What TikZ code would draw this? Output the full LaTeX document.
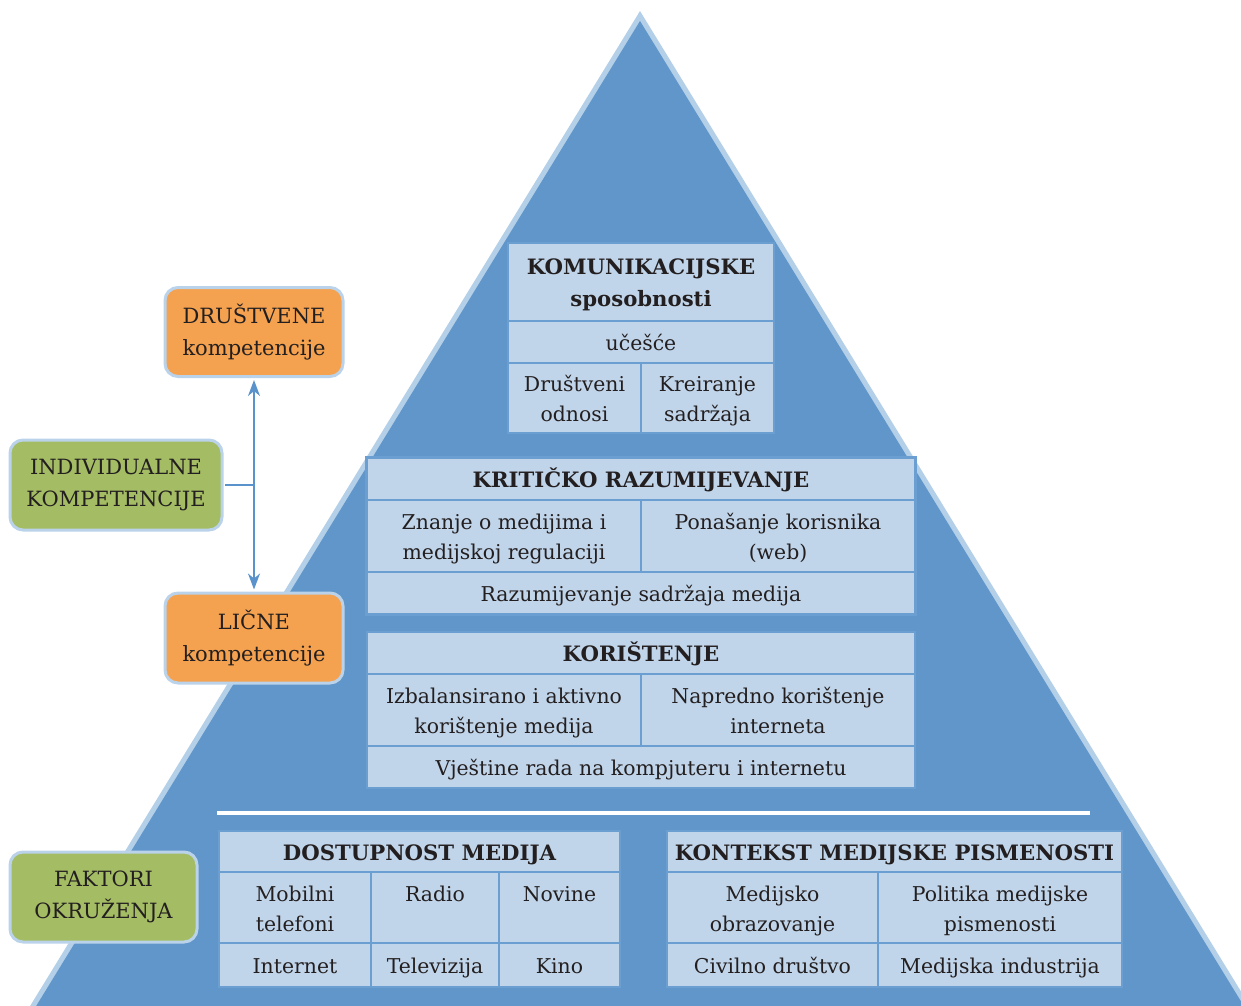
\documentclass[tikz,border=0pt]{standalone}
\usepackage{fontspec}
\setmainfont{DejaVu Serif}
\usetikzlibrary{arrows.meta}
\definecolor{pyrblue}{HTML}{6096C9}
\definecolor{pyredge}{HTML}{B4CFE8}
\definecolor{cellfill}{HTML}{C1D5EA}
\definecolor{cellline}{HTML}{6C9FD1}
\definecolor{txt}{HTML}{231F20}
\definecolor{orangefill}{HTML}{F4A24F}
\definecolor{greenfill}{HTML}{A4BC63}
\definecolor{nodeedge}{HTML}{BBD3EA}
\definecolor{arrowcol}{HTML}{5A93CC}
\newcommand\hd[1]{{\fontsize{21.2}{32}\selectfont\bfseries #1}}
\newcommand\cstrut{\rule[-6pt]{0pt}{29pt}}
\tikzset{
  cellst/.style={draw=cellline, fill=cellfill, line width=1.4pt, text=txt,
    align=center, inner sep=0pt, font=\fontsize{20.4}{30}\selectfont},
  tabframe/.style={draw=cellline, line width=2.2pt},
  sidebox/.style={draw=nodeedge, line width=3pt, rounded corners=13pt, text=txt,
    align=center, inner sep=0pt, font=\fontsize{21}{32}\selectfont},
  conn/.style={draw=arrowcol, line width=2pt},
  arr/.style={conn, {Stealth[length=16pt,width=12pt,inset=5pt]}-{Stealth[length=16pt,width=12pt,inset=5pt]}},
}
\newcommand\cellbox[6]{\node[cellst, minimum width={(#4-#2)*1pt}, minimum height={(#5-#3)*1pt}] (#1) at ({(#2+#4)/2},{(#3+#5)/2}) {\cstrut#6\cstrut};}
\begin{document}
\begin{tikzpicture}[x=1pt,y=-1pt]
\useasboundingbox (0,0) rectangle (1241,1005);
\begin{scope}
\clip (0,0) rectangle (1241,1005);
% pyramid
\fill[pyredge] (640,11) -- (21.5,1020) -- (1258.5,1020) -- cycle;
\fill[pyrblue] (640,21) -- (27.6,1020) -- (1252.4,1020) -- cycle;
\end{scope}
% top box
\node[cellst, minimum width=266pt, minimum height=78pt] (k1) at (641,282) {\cstrut\hd{KOMUNIKACIJSKE}\\[2pt]\hd{sposobnosti}\cstrut};
\cellbox{k2}{508}{321}{774}{363}{učešće}
\cellbox{k3}{508}{363}{641}{433}{Društveni\\odnosi}
\cellbox{k4}{641}{363}{774}{433}{Kreiranje\\sadržaja}
% kriticko
\cellbox{r1}{367}{458}{915}{500}{\hd{KRITIČKO RAZUMIJEVANJE}}
\cellbox{r2}{367}{500}{641}{572}{Znanje o medijima i\\medijskoj regulaciji}
\cellbox{r3}{641}{500}{915}{572}{Ponašanje korisnika\\(web)}
\cellbox{r4}{367}{572}{915}{614}{Razumijevanje sadržaja medija}
\draw[tabframe] (r1.north west) rectangle (r4.south east);
% koristenje
\cellbox{u1}{367}{632}{915}{674}{\hd{KORIŠTENJE}}
\cellbox{u2}{367}{674}{641}{746}{Izbalansirano i aktivno\\korištenje medija}
\cellbox{u3}{641}{674}{915}{746}{Napredno korištenje\\interneta}
\cellbox{u4}{367}{746}{915}{788}{Vještine rada na kompjuteru i internetu}
% white divider
\coordinate (wl) at (217,813);
\coordinate (wr) at (1090,813);
\draw[white, line width=4pt] (wl) -- (wr);
% dostupnost
\cellbox{d1}{219}{831}{620}{872}{\hd{DOSTUPNOST MEDIJA}}
\cellbox{d2}{219}{872}{371}{943}{Mobilni\\telefoni}
\cellbox{d3}{371}{872}{499}{943}{Radio\\~}
\cellbox{d4}{499}{872}{620}{943}{Novine\\~}
\cellbox{d5}{219}{943}{371}{987}{Internet}
\cellbox{d6}{371}{943}{499}{987}{Televizija}
\cellbox{d7}{499}{943}{620}{987}{Kino}
% kontekst
\cellbox{c1}{667}{831}{1122}{872}{\hd{KONTEKST MEDIJSKE PISMENOSTI}}
\cellbox{c2}{667}{872}{878}{943}{Medijsko\\obrazovanje}
\cellbox{c3}{878}{872}{1122}{943}{Politika medijske\\pismenosti}
\cellbox{c4}{667}{943}{878}{987}{Civilno društvo}
\cellbox{c5}{878}{943}{1122}{987}{Medijska industrija}
% side boxes
\node[sidebox, fill=orangefill, minimum width=178pt, minimum height=89pt] (drus) at (254,332) {DRUŠTVENE\\kompetencije};
\node[sidebox, fill=greenfill, minimum width=212pt, minimum height=90pt] (indiv) at (116,485) {INDIVIDUALNE\\KOMPETENCIJE};
\node[sidebox, fill=orangefill, minimum width=178pt, minimum height=90pt] (licne) at (254,638) {LIČNE\\kompetencije};
\node[sidebox, fill=greenfill, minimum width=187pt, minimum height=90pt] (fakt) at (103.5,897) {FAKTORI\\OKRUŽENJA};
% connectors
\draw[arr] ([yshift=-2pt]drus.south) -- ([yshift=2pt]licne.north);
\draw[conn] ([xshift=1.5pt]indiv.east) -- (indiv.east -| drus.south);
\end{tikzpicture}
\end{document}
